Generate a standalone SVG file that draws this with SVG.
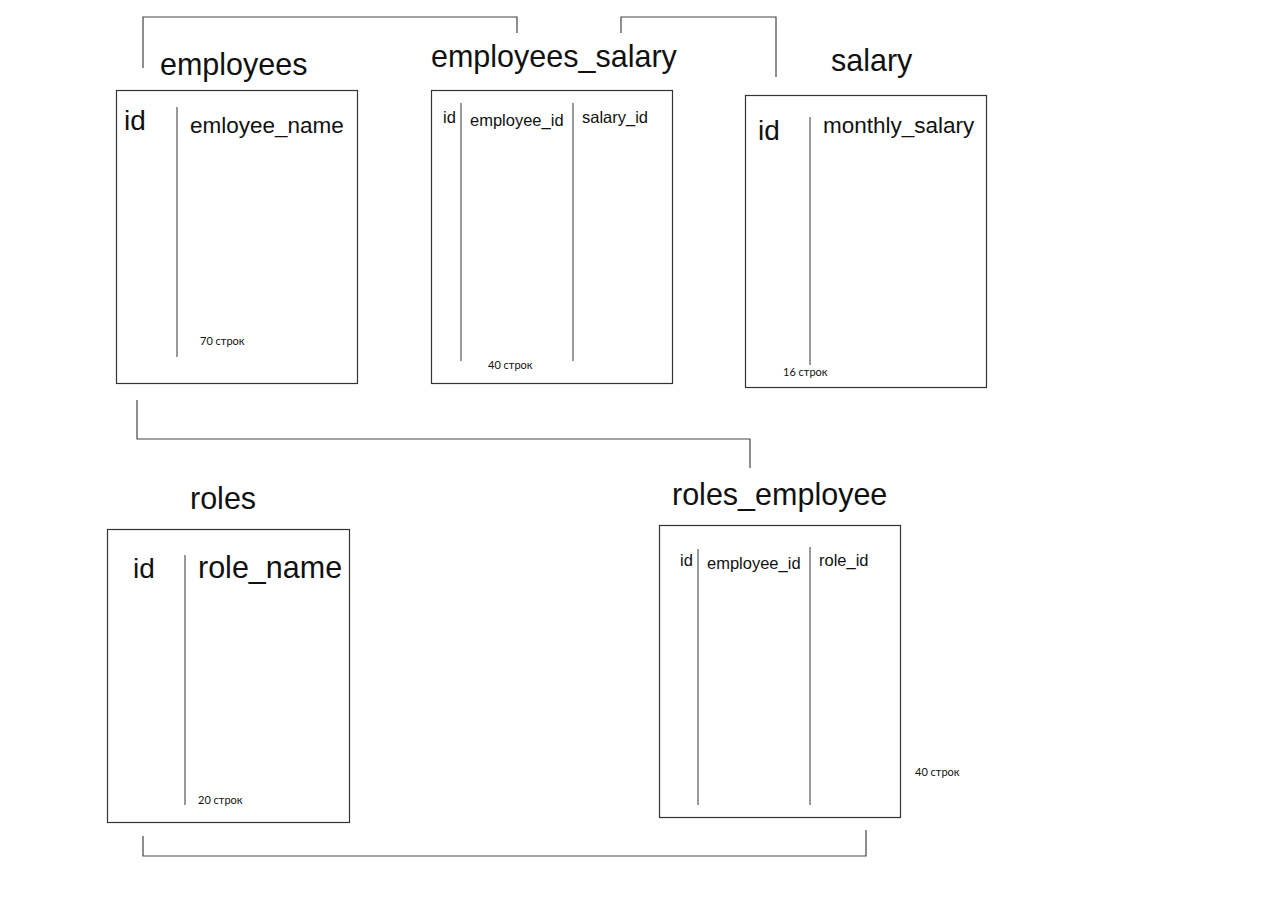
<svg xmlns="http://www.w3.org/2000/svg" width="1280" height="904" viewBox="0 0 1280 904">
  <style>
    .box { fill: #ffffff; stroke: #333333; stroke-width: 1.2; }
    .col { stroke: #555555; stroke-width: 1.2; fill: none; }
    .link { stroke: #444444; stroke-width: 1.2; fill: none; }
    .title { font-family: "Liberation Sans", Arial, sans-serif; font-size: 30.5px; fill: #111111; }
    .big { font-family: "Liberation Sans", Arial, sans-serif; font-size: 28px; fill: #111111; }
    .mid { font-family: "Liberation Sans", Arial, sans-serif; font-size: 22.5px; fill: #111111; }
    .sm { font-family: "Liberation Sans", Arial, sans-serif; font-size: 16.5px; fill: #111111; }
    .note { font-family: "Lato", "Open Sans", sans-serif; font-size: 11px; fill: #111111; }
  </style>
  <rect width="1280" height="904" fill="#ffffff"/>

  <g id="connectors">
    <polyline class="link" points="143,68 143,17 517,17 517,33"/>
    <polyline class="link" points="621,33 621,17 776,17 776,77"/>
    <polyline class="link" points="137,400 137,439 750,439 750,468"/>
    <polyline class="link" points="143,836 143,856 866,856 866,830"/>
  </g>

  <g id="employees">
    <text class="title" x="160" y="75">employees</text>
    <rect class="box" x="116.5" y="90.5" width="241" height="293"/>
    <line class="col" x1="177" y1="107" x2="177" y2="357"/>
    <text class="big" x="124" y="130">id</text>
    <text class="mid" x="190" y="133">emloyee_name</text>
    <text class="note" x="200" y="345">70 строк</text>
  </g>

  <g id="employees_salary">
    <text class="title" x="431" y="67">employees_salary</text>
    <rect class="box" x="431.5" y="90.5" width="241" height="293"/>
    <line class="col" x1="461" y1="103" x2="461" y2="361"/>
    <line class="col" x1="573" y1="103" x2="573" y2="361"/>
    <text class="sm" x="443" y="123">id</text>
    <text class="sm" x="470" y="126">employee_id</text>
    <text class="sm" x="582" y="123">salary_id</text>
    <text class="note" x="488" y="369">40 строк</text>
  </g>

  <g id="salary">
    <text class="title" x="831" y="71">salary</text>
    <rect class="box" x="745.5" y="95.5" width="241" height="292"/>
    <line class="col" x1="810" y1="117" x2="810" y2="365"/>
    <text class="big" x="758" y="140">id</text>
    <text class="mid" x="823" y="133">monthly_salary</text>
    <text class="note" x="783" y="376">16 строк</text>
  </g>

  <g id="roles">
    <text class="title" x="190" y="509">roles</text>
    <rect class="box" x="107.5" y="529.5" width="242" height="293"/>
    <line class="col" x1="185" y1="555" x2="185" y2="805"/>
    <text class="big" x="133" y="578">id</text>
    <text class="title" x="198" y="578">role_name</text>
    <text class="note" x="198" y="804">20 строк</text>
  </g>

  <g id="roles_employee">
    <text class="title" x="672" y="505">roles_employee</text>
    <rect class="box" x="659.5" y="525.5" width="241" height="292"/>
    <line class="col" x1="698" y1="549" x2="698" y2="805"/>
    <line class="col" x1="810" y1="547" x2="810" y2="805"/>
    <text class="sm" x="680" y="566">id</text>
    <text class="sm" x="707" y="569">employee_id</text>
    <text class="sm" x="819" y="566">role_id</text>
    <text class="note" x="915" y="776">40 строк</text>
  </g>
</svg>
